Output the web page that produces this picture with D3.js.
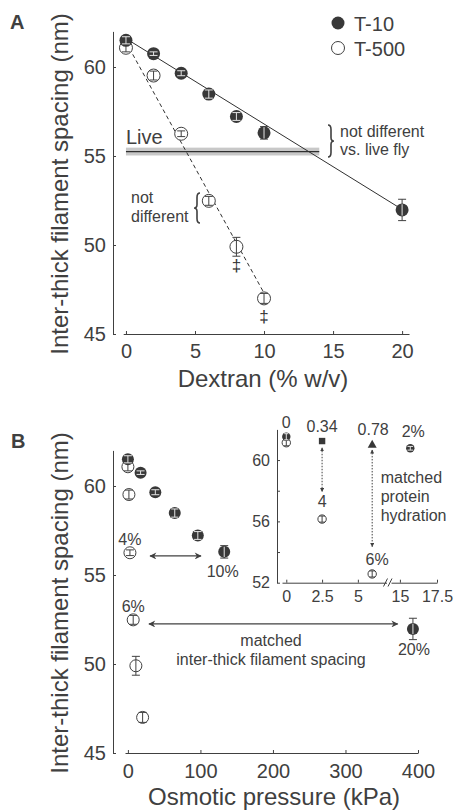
<!DOCTYPE html>
<meta charset="utf-8">

<!-- Load d3.js -->
<script src="https://d3js.org/d3.v7.min.js"></script>

<style>
  body { margin: 0; background: #fff; }
  svg text { font-family: "Liberation Sans", Arial, Helvetica, sans-serif; fill: #404040; }
</style>

<body>
<div id="chart"></div>

<script>
// ---------------- data ----------------
// T-10 dextran series
var t10Dextran = [0, 2, 4, 6, 8, 10, 20];
var t10Kpa     = [0, 17.5, 37.8, 64.6, 96.4, 132.8, 393];
var t10Spacing = [61.5, 60.75, 59.65, 58.48, 57.22, 56.3, 51.97];
var t10Err     = [0.2, 0.1, 0.14, 0.23, 0.22, 0.35, 0.6];

// T-500 dextran series
var t500Dextran = [0, 2, 4, 6, 8, 10];
var t500Kpa     = [0, 1.4, 2.8, 7.3, 11, 20.3];
var t500Spacing = [61.08, 59.52, 56.25, 52.48, 49.9, 47.0];
var t500Err     = [0.23, 0.25, 0.16, 0.25, 0.53, 0.28];

// fit lines in A
var t10FitX  = [0, 20], t10FitY  = [61.6, 52.0];
var t500FitX = [0, 10], t500FitY = [61.4, 47.3];

// live fly spacing band
var liveSpacing = 55.25, liveSem = 0.22, liveRange = [0, 14];

// inset of B
var insetFilledX = [0, 15.7],     insetFilledY = [61.52, 60.77],        insetFilledErr = [0.2, 0.12];
var insetOpenX   = [0, 2.5, 6],   insetOpenY   = [61.13, 56.15, 52.57], insetOpenErr   = [0.2, 0.2, 0.2];
var insetSquareX = [2.5], insetSquareY = [61.24];
var insetTriX    = [6],   insetTriY    = [61.0];

// ticks
var xTicksA = [0, 5, 10, 15, 20];
var xTicksB = [0, 100, 200, 300, 400];
var yTicks  = [45, 50, 55, 60];
var insetXTicksL = [0, 2.5, 5], insetXTicksR = [15, 17.5];
var insetYTicks  = [52, 54, 56, 58, 60];

var dark = "#404040";
var fillDark = "#383838";

var svg = d3.select("#chart").append("svg")
    .attr("width", 454)
    .attr("height", 811);

var defs = svg.append("defs");
defs.append("marker")
    .attr("id", "arrow")
    .attr("viewBox", "0 0 10 10")
    .attr("refX", 9).attr("refY", 5)
    .attr("markerUnits", "userSpaceOnUse")
    .attr("markerWidth", 8).attr("markerHeight", 7)
    .attr("orient", "auto-start-reverse")
  .append("path")
    .attr("d", "M0,0 L10,5 L0,10 L3,5 z")
    .attr("fill", dark);
defs.append("marker")
    .attr("id", "arrowSmall")
    .attr("viewBox", "0 0 10 10")
    .attr("refX", 9).attr("refY", 5)
    .attr("markerUnits", "userSpaceOnUse")
    .attr("markerWidth", 4).attr("markerHeight", 4)
    .attr("orient", "auto-start-reverse")
  .append("path")
    .attr("d", "M0,0 L10,5 L0,10 z")
    .attr("fill", dark);

// ---------------- helpers ----------------
function errorBar(g, cx, cy, e, cw, color) {
  g.append("line")
    .attr("x1", cx).attr("x2", cx)
    .attr("y1", cy - e).attr("y2", cy + e)
    .attr("stroke", color).attr("stroke-width", 1);
  if (cw > 0) {
    [-e, e].forEach(function(o) {
      g.append("line")
        .attr("x1", cx - cw).attr("x2", cx + cw)
        .attr("y1", cy + o).attr("y2", cy + o)
        .attr("stroke", color).attr("stroke-width", 1);
    });
  }
}

function drawPoints(g, xs, ys, errs, x, y, r, filled, cw) {
  xs.forEach(function(xv, i) {
    var cx = x(xv), cy = y(ys[i]);
    var e = y(ys[i] - errs[i]) - cy;
    if (filled) {
      errorBar(g, cx, cy, e, cw, dark);
      g.append("circle")
        .attr("cx", cx).attr("cy", cy).attr("r", r)
        .attr("fill", fillDark);
      // the bar shows light on top of the dark disc
      var ei = Math.min(e, r - 0.8);
      var cwi = e < r - 0.8 ? Math.min(cw, Math.sqrt(r * r - e * e) - 0.8) : 0;
      errorBar(g, cx, cy, ei, cwi, "#e4e4e4");
    } else {
      g.append("circle")
        .attr("cx", cx).attr("cy", cy).attr("r", r)
        .attr("fill", "#fff").attr("stroke", dark).attr("stroke-width", 1);
      errorBar(g, cx, cy, e, cw, dark);
    }
  });
}

function brace(g, x, y0, y1, w) {
  // w > 0 : tip to the right "}", w < 0 : tip to the left "{"
  var ym = (y0 + y1) / 2, h = w / 2;
  var p = "M" + x + "," + y0 +
    " Q" + (x + h) + "," + y0 + " " + (x + h) + "," + (y0 + Math.abs(h) * 1.5) +
    " L" + (x + h) + "," + (ym - Math.abs(h) * 1.2) +
    " Q" + (x + h) + "," + ym + " " + (x + w) + "," + ym +
    " Q" + (x + h) + "," + ym + " " + (x + h) + "," + (ym + Math.abs(h) * 1.2) +
    " L" + (x + h) + "," + (y1 - Math.abs(h) * 1.5) +
    " Q" + (x + h) + "," + y1 + " " + x + "," + y1;
  g.append("path").attr("d", p)
    .attr("fill", "none").attr("stroke", dark).attr("stroke-width", 1.6);
}

function styleAxis(sel, size) {
  sel.attr("color", dark).attr("font-size", size);
  sel.select(".domain").attr("stroke-width", 1);
}

// ====================== PANEL A ======================
var gA = svg.append("g");
var xA = d3.scaleLinear().domain([-0.2, 20.5]).range([123.2, 409]);
var yA = d3.scaleLinear().domain([45, 62]).range([334, 31.4]);

gA.append("g")
    .attr("transform", "translate(0,334)")
    .call(d3.axisBottom(xA).tickValues(xTicksA).tickSizeInner(-3).tickSizeOuter(0).tickPadding(10))
    .call(styleAxis, 20);
gA.append("g")
    .attr("transform", "translate(113,0)")
    .call(d3.axisLeft(yA).tickValues(yTicks).tickSizeInner(-3).tickSizeOuter(0).tickPadding(7))
    .call(styleAxis, 20);

// live fly band
gA.append("rect")
    .attr("x", xA(liveRange[0])).attr("width", xA(liveRange[1]) - xA(liveRange[0]))
    .attr("y", yA(liveSpacing + liveSem)).attr("height", yA(liveSpacing - liveSem) - yA(liveSpacing + liveSem))
    .attr("fill", "#c8c8c8");
gA.append("line")
    .attr("x1", xA(liveRange[0])).attr("x2", xA(liveRange[1]))
    .attr("y1", yA(liveSpacing)).attr("y2", yA(liveSpacing))
    .attr("stroke", "#303030").attr("stroke-width", 1.2);
gA.append("text").attr("x", xA(0)).attr("y", 144).attr("font-size", 20).text("Live");

// fit lines
gA.append("line")
    .attr("x1", xA(t10FitX[0])).attr("y1", yA(t10FitY[0]))
    .attr("x2", xA(t10FitX[1])).attr("y2", yA(t10FitY[1]))
    .attr("stroke", "#303030").attr("stroke-width", 1);
gA.append("line")
    .attr("x1", xA(t500FitX[0])).attr("y1", yA(t500FitY[0]))
    .attr("x2", xA(t500FitX[1])).attr("y2", yA(t500FitY[1]))
    .attr("stroke", "#303030").attr("stroke-width", 1).attr("stroke-dasharray", "4,3");

drawPoints(gA, t500Dextran, t500Spacing, t500Err, xA, yA, 6.5, false, 4);
drawPoints(gA, t10Dextran, t10Spacing, t10Err, xA, yA, 6.5, true, 4);

// double daggers
[8, 10].forEach(function(d) {
  var i = t500Dextran.indexOf(d);
  gA.append("text")
    .attr("x", xA(d)).attr("y", yA(t500Spacing[i]) + 24)
    .attr("text-anchor", "middle").attr("font-size", 17)
    .style("fill", "#333").text("\u2021");
});

// annotations
brace(gA, 328, 125, 157, 6);
gA.append("text").attr("x", 340).attr("y", 136.7).attr("font-size", 16).text("not different");
gA.append("text").attr("x", 340).attr("y", 155).attr("font-size", 16).text("vs. live fly");
brace(gA, 200, 193, 223, -6);
gA.append("text").attr("x", 131).attr("y", 203.3).attr("font-size", 16).text("not");
gA.append("text").attr("x", 131).attr("y", 222.3).attr("font-size", 16).text("different");

// legend
gA.append("circle").attr("cx", 338).attr("cy", 23).attr("r", 6.5).attr("fill", fillDark);
gA.append("text").attr("x", 354).attr("y", 30.5).attr("font-size", 20).text("T-10");
gA.append("circle").attr("cx", 338).attr("cy", 48).attr("r", 6.5)
    .attr("fill", "#fff").attr("stroke", dark).attr("stroke-width", 1);
gA.append("text").attr("x", 354).attr("y", 55.5).attr("font-size", 20).text("T-500");

// axis titles
gA.append("text").attr("x", 263).attr("y", 386.5).attr("text-anchor", "middle")
    .attr("font-size", 24).text("Dextran (% w/v)");
gA.append("text").attr("transform", "translate(68,184) rotate(-90)")
    .attr("text-anchor", "middle").attr("font-size", 24).text("Inter-thick filament spacing (nm)");
gA.append("text").attr("x", 10).attr("y", 29).attr("font-size", 20)
    .attr("font-weight", "bold").text("A");

// ====================== PANEL B ======================
var gB = svg.append("g");
var xB = d3.scaleLinear().domain([-4, 400]).range([125, 418]);
var yB = d3.scaleLinear().domain([45, 62]).range([753, 450.4]);

gB.append("g")
    .attr("transform", "translate(0,753)")
    .call(d3.axisBottom(xB).tickValues(xTicksB).tickSizeInner(-3).tickSizeOuter(0).tickPadding(10.5))
    .call(styleAxis, 20);
gB.append("g")
    .attr("transform", "translate(113,0)")
    .call(d3.axisLeft(yB).tickValues(yTicks).tickSizeInner(-3).tickSizeOuter(0).tickPadding(7))
    .call(styleAxis, 20);

drawPoints(gB, t500Kpa, t500Spacing, t500Err, xB, yB, 6, false, 4);
drawPoints(gB, t10Kpa, t10Spacing, t10Err, xB, yB, 6, true, 4);

// matched-spacing arrows
gB.append("line")
    .attr("x1", xB(30.5)).attr("x2", xB(100.8))
    .attr("y1", yB(56.07)).attr("y2", yB(56.07))
    .attr("stroke", dark).attr("stroke-width", 1.2)
    .attr("marker-start", "url(#arrow)").attr("marker-end", "url(#arrow)");
gB.append("line")
    .attr("x1", xB(29)).attr("x2", xB(372))
    .attr("y1", yB(52.25)).attr("y2", yB(52.25))
    .attr("stroke", dark).attr("stroke-width", 1.2)
    .attr("marker-start", "url(#arrow)").attr("marker-end", "url(#arrow)");

gB.append("text").attr("x", xB(t500Kpa[2])).attr("y", yB(t500Spacing[2]) - 8)
    .attr("text-anchor", "middle").attr("font-size", 16).text("4%");
gB.append("text").attr("x", xB(t500Kpa[3])).attr("y", yB(t500Spacing[3]) - 8)
    .attr("text-anchor", "middle").attr("font-size", 16).text("6%");
gB.append("text").attr("x", xB(t10Kpa[5]) - 1.5).attr("y", yB(t10Spacing[5]) + 25)
    .attr("text-anchor", "middle").attr("font-size", 16).text("10%");
gB.append("text").attr("x", xB(t10Kpa[6]) + 1).attr("y", yB(t10Spacing[6]) + 26)
    .attr("text-anchor", "middle").attr("font-size", 16).text("20%");
gB.append("text").attr("x", 271).attr("y", 646).attr("text-anchor", "middle")
    .attr("font-size", 16).text("matched");
gB.append("text").attr("x", 271).attr("y", 665).attr("text-anchor", "middle")
    .attr("font-size", 16).text("inter-thick filament spacing");

// axis titles
gB.append("text").attr("x", 274).attr("y", 805).attr("text-anchor", "middle")
    .attr("font-size", 24).text("Osmotic pressure (kPa)");
gB.append("text").attr("transform", "translate(68,603) rotate(-90)")
    .attr("text-anchor", "middle").attr("font-size", 24).text("Inter-thick filament spacing (nm)");
gB.append("text").attr("x", 11).attr("y", 448).attr("font-size", 20)
    .attr("font-weight", "bold").text("B");

// ---------------- inset ----------------
var gI = svg.append("g");
var xIL = d3.scaleLinear().domain([-0.3, 7]).range([282, 386.5]);
var xIR = d3.scaleLinear().domain([14.4, 17.5]).range([391, 437]);
var yI  = d3.scaleLinear().domain([52, 62]).range([582.7, 429.4]);
// one lookup that picks the right piece of the broken axis
var xI = function(v) { return v > 10 ? xIR(v) : xIL(v); };

gI.append("g")
    .attr("transform", "translate(0,582.7)")
    .call(d3.axisBottom(xIL).tickValues(insetXTicksL).tickSizeInner(-3).tickSizeOuter(0).tickPadding(7.5)
      .tickFormat(d3.format("")))
    .call(styleAxis, 16);
gI.append("g")
    .attr("transform", "translate(0,582.7)")
    .call(d3.axisBottom(xIR).tickValues(insetXTicksR).tickSizeInner(-3).tickSizeOuter(0).tickPadding(7.5)
      .tickFormat(d3.format("")))
    .call(styleAxis, 16);
gI.append("g")
    .attr("transform", "translate(277,0)")
    .call(d3.axisLeft(yI).tickValues(insetYTicks).tickSizeInner(-3).tickSizeOuter(0).tickPadding(7)
      .tickFormat(function(d) { return d % 4 === 0 ? d : ""; }))
    .call(styleAxis, 16);

// axis break marks
[xIL.range()[1] - 1, xIR.range()[0] - 1].forEach(function(bx) {
  gI.append("line")
    .attr("x1", bx - 2).attr("y1", 586.5).attr("x2", bx + 2).attr("y2", 578.5)
    .attr("stroke", dark).attr("stroke-width", 1);
});

drawPoints(gI, insetOpenX, insetOpenY, insetOpenErr, xI, yI, 4.2, false, 2.8);
drawPoints(gI, insetFilledX, insetFilledY, insetFilledErr, xI, yI, 4.2, true, 2.8);

gI.selectAll(".sq").data(insetSquareX).enter().append("rect")
    .attr("x", function(d) { return xI(d) - 3.2; })
    .attr("y", function(d, i) { return yI(insetSquareY[i]) - 3.2; })
    .attr("width", 6.4).attr("height", 6.4).attr("fill", fillDark);
gI.selectAll(".tri").data(insetTriX).enter().append("path")
    .attr("d", function(d, i) {
      var cx = xI(d), cy = yI(insetTriY[i]);
      return "M" + (cx - 4.5) + "," + (cy + 3) + " L" + (cx + 4.5) + "," + (cy + 3) + " L" + cx + "," + (cy - 5) + " Z";
    })
    .attr("fill", fillDark);

// dotted arrows
gI.append("line")
    .attr("x1", xI(2.5)).attr("x2", xI(2.5)).attr("y1", yI(60.8)).attr("y2", yI(57.94))
    .attr("stroke", dark).attr("stroke-width", 1).attr("stroke-dasharray", "1.5,1.5")
    .attr("marker-start", "url(#arrowSmall)").attr("marker-end", "url(#arrowSmall)");
gI.append("line")
    .attr("x1", xI(6)).attr("x2", xI(6)).attr("y1", yI(60.66)).attr("y2", yI(54.35))
    .attr("stroke", dark).attr("stroke-width", 1).attr("stroke-dasharray", "1.5,1.5")
    .attr("marker-start", "url(#arrowSmall)").attr("marker-end", "url(#arrowSmall)");

// inset labels
function insetLabel(x, y, s) {
  gI.append("text").attr("x", x).attr("y", y).attr("text-anchor", "middle")
    .attr("font-size", 16).text(s);
}
insetLabel(xI(0), yI(insetFilledY[0]) - 9, "0");
insetLabel(xI(2.5), yI(insetSquareY[0]) - 9.5, "0.34");
insetLabel(xI(6) + 1, yI(insetTriY[0]) - 10, "0.78");
insetLabel(xI(15.7) + 3, yI(insetFilledY[1]) - 11, "2%");
insetLabel(xI(2.5), yI(insetOpenY[1]) - 12, "4");
insetLabel(xI(6) + 5, yI(insetOpenY[2]) - 9, "6%");

["matched", "protein", "hydration"].forEach(function(s, i) {
  gI.append("text").attr("x", 380.7).attr("y", 483 + i * 19).attr("font-size", 16).text(s);
});
</script>
</body>
